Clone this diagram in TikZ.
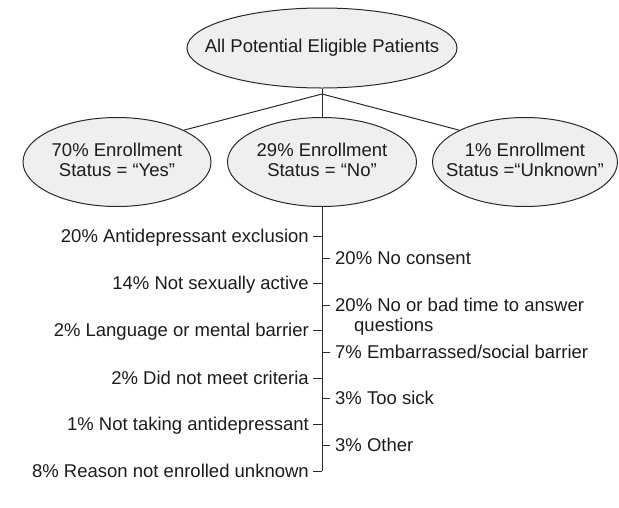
\documentclass[tikz,border=0pt]{standalone}
\usepackage{fontspec}
\setmainfont{Liberation Sans}
\usetikzlibrary{shapes.geometric,calc}
\definecolor{ink}{HTML}{1C1C1C}
\definecolor{linec}{HTML}{2A2A2A}
\definecolor{ellfill}{HTML}{EFEFEF}
\newcommand{\ctext}[1]{\makebox[0pt][c]{\begin{tabular}{@{}c@{}}#1\end{tabular}}}
\begin{document}
\begin{tikzpicture}[x=1pt,y=-1pt,
  every node/.style={text=ink,font=\fontsize{18.5}{20}\selectfont},
  oval/.style={ellipse,draw=linec,line width=1pt,fill=ellfill,inner sep=0pt,minimum height=89pt},
  lab/.style={inner sep=0pt,text height=13pt,text depth=0pt},
  conn/.style={draw=linec,line width=1pt}]
\useasboundingbox (0,0) rectangle (619,507);
\node[oval,minimum width=270pt,minimum height=80pt] (top) at (322,48) {\ctext{All Potential Eligible Patients}};
\node[oval,minimum width=188pt] (yes) at (117,162) {\ctext{70\% Enrollment\\Status = “Yes”}};
\node[oval,minimum width=189pt] (no) at (322,162) {\ctext{29\% Enrollment\\Status = “No”}};
\node[oval,minimum width=185pt] (unk) at (525,162) {\ctext{1\% Enrollment\\Status =“Unknown”}};
\coordinate (j) at (322,94);
\coordinate (send) at (322,471);
\draw[conn] (top.south) -- (j);
\draw[conn] (j) -- (no.north);
\draw[conn] (j) -- (yes.north east);
\draw[conn] (j) -- (unk.north west);
\draw[conn] (no.south) -- (send);
% left labels
\node[lab,anchor=east] (l1) at (309,236) {20\% Antidepressant exclusion};
\node[lab,anchor=east] (l2) at (309,283) {14\% Not sexually active};
\node[lab,anchor=east] (l3) at (309,330) {2\% Language or mental barrier};
\node[lab,anchor=east] (l4) at (309,378) {2\% Did not meet criteria};
\node[lab,anchor=east] (l5) at (309,424) {1\% Not taking antidepressant};
\node[lab,anchor=east] (l6) at (309,471) {8\% Reason not enrolled unknown};
\foreach \n in {l1,l2,l3,l4,l5,l6}
  \draw[conn] ([xshift=4pt]\n.east) -- (\n.east -| send);
% right labels
\node[lab,anchor=west] (r1) at (335,258) {20\% No consent};
\node[lab,anchor=west] (r2) at (335,305) {20\% No or bad time to answer};
\node[lab,anchor=west] (r2b) at (354,325) {questions};
\node[lab,anchor=west] (r3) at (335,352) {7\% Embarrassed/social barrier};
\node[lab,anchor=west] (r4) at (335,398) {3\% Too sick};
\node[lab,anchor=west] (r5) at (335,445) {3\% Other};
\foreach \n in {r1,r2,r3,r4,r5}
  \draw[conn] ([xshift=-5pt]\n.west) -- (\n.west -| send);
\end{tikzpicture}
\end{document}
